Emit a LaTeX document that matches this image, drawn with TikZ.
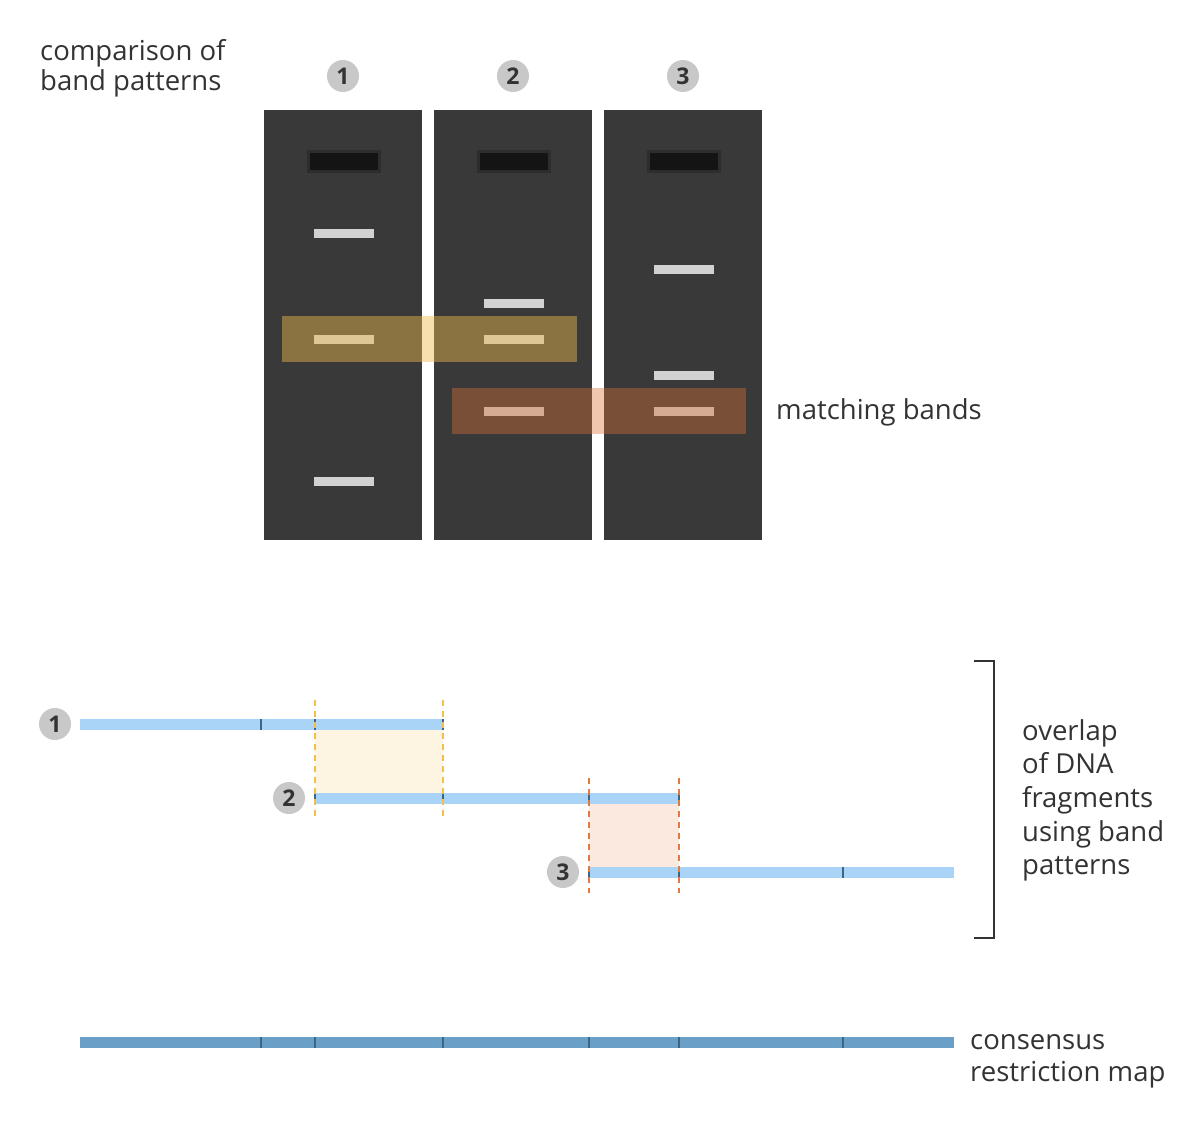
\documentclass[tikz,border=0pt]{standalone}
\usepackage{fontspec}
\setmainfont{Open Sans}
\definecolor{txt}{HTML}{333333}
\definecolor{gel}{HTML}{393939}
\definecolor{well}{HTML}{141414}
\definecolor{band}{HTML}{D2D2D2}
\definecolor{circ}{HTML}{C8C8C8}
\definecolor{hlY}{RGB}{238,187,74}
\definecolor{hlO}{RGB}{221,113,56}
\definecolor{frag}{HTML}{AAD4F7}
\definecolor{cons}{HTML}{6A9FC8}
\definecolor{tickc}{HTML}{3F6585}
\definecolor{dashY}{HTML}{F2C04A}
\definecolor{dashO}{HTML}{E07A40}
\definecolor{boxY}{HTML}{FDF5E2}
\definecolor{boxO}{HTML}{FBE9E0}
\tikzset{
  lbl/.style={anchor=north west, inner sep=0, align=left, text=txt, font=\fontsize{27.5}{30}\selectfont},
  num/.style={circle, fill=circ, minimum size=32, inner sep=0, text=txt, font=\bfseries\fontsize{23}{23}\selectfont},
  lane/.style={fill=gel, draw=none, minimum width=158, minimum height=430, inner sep=0},
  wellband/.style={fill=well},
  gband/.style={fill=band},
  fragbar/.style={fill=frag},
  consbar/.style={fill=cons},
  tk/.style={draw=tickc, line width=1.3},
  dY/.style={draw=dashY, line width=1.6, dash pattern=on 6 off 5},
  dO/.style={draw=dashO, line width=1.6, dash pattern=on 6 off 5},
}
\begin{document}
\begin{tikzpicture}[x=1pt,y=-1pt]
\useasboundingbox[fill=white] (0,0) rectangle (1200,1129);

% ---------- top: gel ----------
\node[lbl] (cmp) at (40,39) {comparison of\\band patterns};
\node[num] (n1) at (343,76) {1};
\node[num] (n2) at (513,76) {2};
\node[num] (n3) at (683,76) {3};

\node[lane] (lane1) at (343,325) {};
\node[lane] (lane2) at (513,325) {};
\node[lane] (lane3) at (683,325) {};

% wells
\foreach \x in {344,514,684}{
  \fill[well, opacity=0.3] (\x-37,150) rectangle (\x+37,173);
  \fill[wellband] (\x-34,153) rectangle (\x+34,170);
}
% bands lane 1
\fill[gband] (314,229) rectangle (374,238);
\fill[gband] (314,335) rectangle (374,344);
\fill[gband] (314,477) rectangle (374,486);
% bands lane 2
\fill[gband] (484,299) rectangle (544,308);
\fill[gband] (484,335) rectangle (544,344);
\fill[gband] (484,407) rectangle (544,416);
% bands lane 3
\fill[gband] (654,265) rectangle (714,274);
\fill[gband] (654,371) rectangle (714,380);
\fill[gband] (654,407) rectangle (714,416);

% highlights
\fill[hlY, opacity=0.45] (282,316) rectangle (577,362);
\fill[hlO, opacity=0.40] (452,388) rectangle (746,434);

\node[lbl, anchor=base west] (match) at (776,419) {matching bands};

% ---------- middle: overlap ----------
\fill[boxY] (315,730) rectangle (443,793);
\fill[boxO] (589,804) rectangle (679,867);

\fill[fragbar] (80,719) rectangle (443,730);
\fill[fragbar] (315,793) rectangle (679,804);
\fill[fragbar] (589,867) rectangle (954,878);

\node[num] (f1) at (55,724) {1};
\node[num] (f2) at (289,798) {2};
\node[num] (f3) at (563,872) {3};

\draw[tk] (261,719) -- (261,730);
\draw[tk] (315,719) -- (315,730);
\draw[tk] (443,719) -- (443,730);
\draw[tk] (315,793) -- (315,804);
\draw[tk] (443,793) -- (443,804);
\draw[tk] (589,793) -- (589,804);
\draw[tk] (679,793) -- (679,804);
\draw[tk] (589,867) -- (589,878);
\draw[tk] (679,867) -- (679,878);
\draw[tk] (843,867) -- (843,878);

\draw[dY] (315,700) -- (315,820);
\draw[dY] (443,700) -- (443,820);
\draw[dO] (589,778) -- (589,893);
\draw[dO] (679,778) -- (679,893);

% bracket
\draw[draw=txt, line width=2.6] (974,661) -- (994,661) -- (994,938) -- (974,938);
\node[lbl, font=\fontsize{27.5}{33.7}\selectfont] (ovl) at (1022,719) {overlap\\of DNA\\fragments\\using band\\patterns};

% ---------- bottom: consensus ----------
\fill[consbar] (80,1037) rectangle (954,1048);
\foreach \x in {261,315,443,589,679,843}{
  \draw[tk] (\x,1037) -- (\x,1048);
}
\node[lbl, font=\fontsize{27.5}{32}\selectfont] (cns) at (970,1034) {consensus\\restriction map};
\end{tikzpicture}
\end{document}
